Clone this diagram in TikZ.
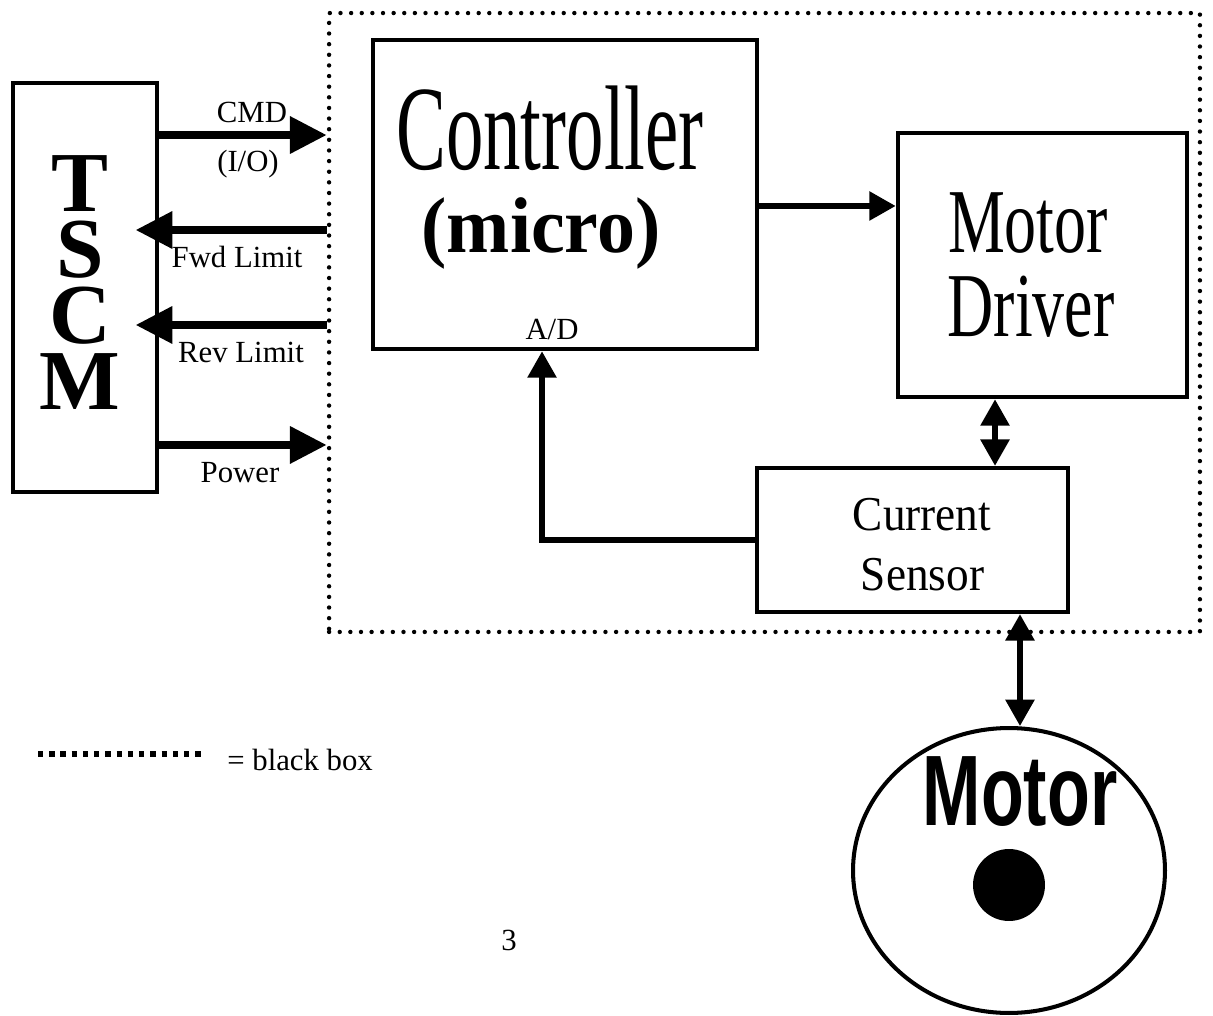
\documentclass[tikz,border=0pt]{standalone}
\usepackage{fontspec}
\setmainfont{Liberation Serif}
\newfontfamily\motorfont{Liberation Sans}
\usetikzlibrary{positioning,arrows.meta,shapes.geometric}

\begin{document}
\begin{tikzpicture}[x=0.02cm, y=-0.02cm,
    box/.style={rectangle, draw, line width=2.7pt},
    lbl/.style={font=\fontsize{17.5}{20}\selectfont, inner sep=0pt, anchor=base},
    bigarrow/.style={line width=5pt, -{Triangle[length=21pt,width=20pt]}},
    thinarrow/.style={line width=3.1pt, -{Triangle[length=15pt,width=16pt]}},
    dblarrow/.style={line width=3.1pt, {Triangle[length=15pt,width=16pt]}-{Triangle[length=15pt,width=16pt]}},
    blackbox/.style={draw, line width=2.5pt, line cap=round, dash pattern=on 0pt off 6.05pt}]
    \useasboundingbox (0,0) rectangle (1213,1016);

    % Black box
    \node[blackbox, minimum width=17.42cm, minimum height=12.38cm] (bbox) at (764.5,322.5) {};

    % TSCM
    \node[box, minimum width=2.88cm, minimum height=8.18cm] (tscm) at (85,287.5) {};
    \node[align=center, inner sep=0pt, font=\fontsize{48.6}{37.4}\selectfont\bfseries] (tscmtxt) at (80,282.5) {T\\S\\C\\M};

    % Controller
    \node[box, minimum width=7.68cm, minimum height=6.18cm] (ctrl) at (565,194.5) {};
    \node[anchor=base, inner sep=0pt, font=\fontsize{68.6}{70}\selectfont] (ctrltxt) at (550,170) {\scalebox{0.62}[1]{Controller}};
    \node[anchor=base, inner sep=0pt, font=\fontsize{45}{46}\selectfont\bfseries] (micro) at (541,253) {\scalebox{0.96}[1]{(micro)}};
    \node[lbl] (ad) at (552,340) {A/D};

    % Motor driver
    \node[box, minimum width=5.78cm, minimum height=5.28cm] (drv) at (1042.5,265) {};
    \node[anchor=base, inner sep=0pt, font=\fontsize{52}{53}\selectfont] (drvtop) at (1028,253) {\scalebox{0.7}[1]{Motor}};
    \node[anchor=base, inner sep=0pt, font=\fontsize{52}{53}\selectfont] (drvbot) at (1031,337) {\scalebox{0.7}[1]{Driver}};

    % Current sensor
    \node[box, line width=2.5pt, minimum width=6.22cm, minimum height=2.88cm] (cs) at (912.5,540) {};
    \node[anchor=base, inner sep=0pt, font=\fontsize{27.7}{28}\selectfont] (cstop) at (922,530) {\scalebox{0.93}[1]{Current}};
    \node[anchor=base, inner sep=0pt, font=\fontsize{27.7}{28}\selectfont] (csbot) at (922.5,590) {\scalebox{0.93}[1]{Sensor}};

    % Motor
    \node[ellipse, draw, line width=2.3pt, minimum width=6.24cm, minimum height=5.7cm] (motor) at (1009,870.5) {};
    \node[anchor=base, inner sep=0pt, font=\motorfont\bfseries\fontsize{57}{58}\selectfont] (motortxt) at (1020,825) {\scalebox{0.7}[1]{Motor}};
    \node[circle, fill, minimum size=1.44cm, inner sep=0pt] (shaft) at (1009,885) {};

    % TSCM lines
    \coordinate (cmd) at ([yshift=3.05cm]tscm.east);
    \coordinate (fwd) at ([yshift=1.15cm]tscm.east);
    \coordinate (rev) at ([yshift=-0.75cm]tscm.east);
    \coordinate (pwr) at ([yshift=-3.15cm]tscm.east);
    \draw[bigarrow] (cmd) -- (cmd -| bbox.west);
    \draw[bigarrow] (fwd -| bbox.west) -- ([xshift=-0.48cm]fwd);
    \draw[bigarrow] (rev -| bbox.west) -- ([xshift=-0.48cm]rev);
    \draw[bigarrow] (pwr) -- (pwr -| bbox.west);

    \node[lbl] (cmdlbl) at (252,123) {CMD};
    \node[lbl] (iolbl) at (248,172) {(I/O)};
    \node[lbl] (fwdlbl) at (237,268) {Fwd Limit};
    \node[lbl] (revlbl) at (241,363) {Rev Limit};
    \node[lbl] (pwrlbl) at (240,482) {Power};

    % Inside the black box
    \coordinate (ctrlout) at ([yshift=-0.23cm]ctrl.east);
    \draw[thinarrow] (ctrlout) -- (ctrlout -| drv.west);
    \draw[thinarrow] (cs.west) -| ([xshift=-0.46cm]ctrl.south);
    \coordinate (drvlink) at ([xshift=-0.95cm]drv.south);
    \draw[dblarrow] (drvlink) -- (drvlink |- cs.north);
    \coordinate (motlink) at ([xshift=2.15cm]cs.south);
    \draw[dblarrow] (motlink) -- (motlink |- motor.north);

    % Legend
    \coordinate (lgstart) at (38,754);
    \coordinate (lgend) at (203,754);
    \draw[line width=3pt, dash pattern=on 3pt off 3.4pt] (lgstart) -- (lgend);
    \node[lbl, anchor=base west] (lgtxt) at (227,770) {= black box};
    \node[lbl] (page) at (509,950) {3};
\end{tikzpicture}
\end{document}
